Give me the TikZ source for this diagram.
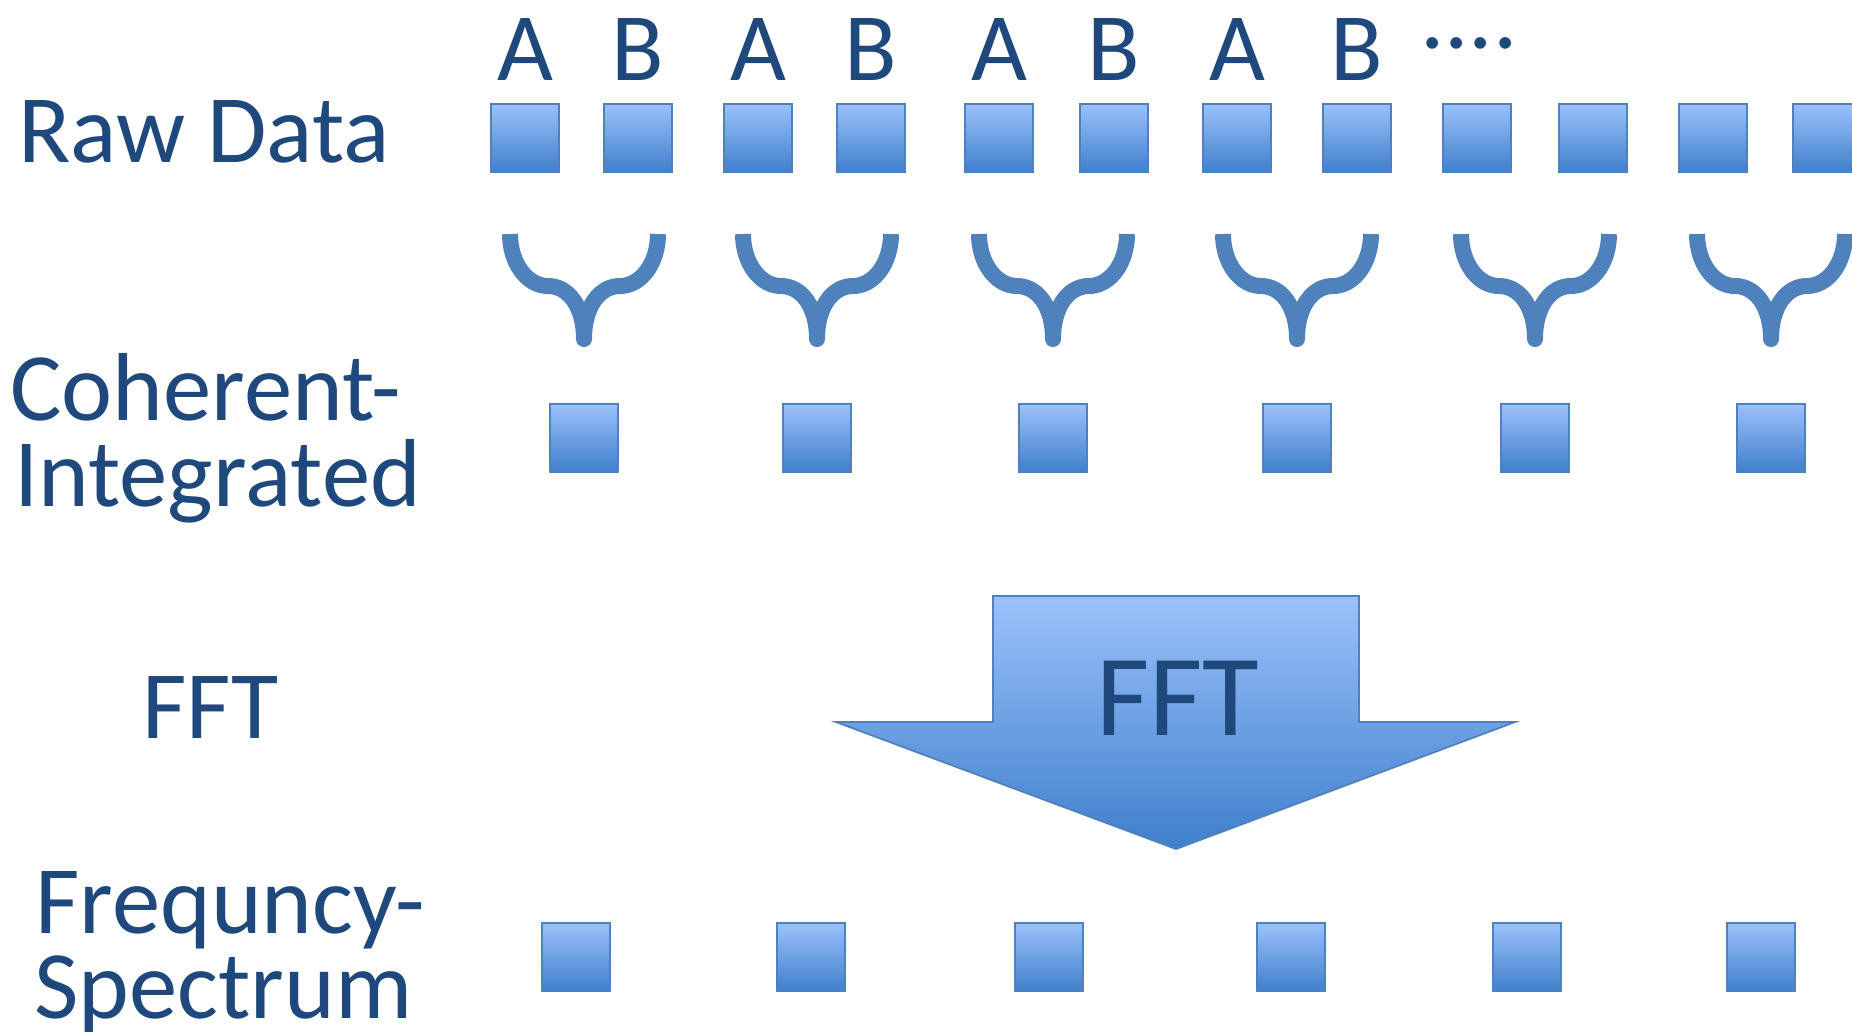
\documentclass[tikz,border=0pt]{standalone}
\usepackage{fontspec}
\setmainfont{Carlito}
\usetikzlibrary{positioning,calc}
\definecolor{txtblue}{RGB}{31,73,125}
\definecolor{accblue}{RGB}{79,129,189}
\definecolor{gradtop}{RGB}{155,193,250}
\definecolor{gradbot}{RGB}{63,127,204}
\newcommand{\lblfont}{\fontsize{55}{49}\selectfont}
\newcommand{\bigfont}{\fontsize{66}{60}\selectfont}
\tikzset{
	sq/.style={draw=accblue,line width=1.2pt,top color=gradtop,bottom color=gradbot,minimum size=1.36cm,inner sep=0pt,outer sep=0pt},
	abl/.style={text=txtblue,font=\lblfont,inner sep=0pt},
	lbl/.style={text=txtblue,font=\lblfont,inner sep=0pt,anchor=base west},
	merge/.pic={
		\draw[accblue,line width=0.32cm,line cap=butt,line join=round] (-74,-105) .. controls (-74,-76) and (-57,-53) .. (-36,-53) .. controls (-16,-53) and (0,-33) .. (0,0) .. controls (0,-33) and (16,-53) .. (36,-53) .. controls (57,-53) and (74,-76) .. (74,-105);
	}
}
\begin{document}
\begin{tikzpicture}[x=0.02cm,y=-0.02cm]
			\useasboundingbox (0,0) rectangle (1852,1031);
			\node[sq] (r1) at (525,138) {};
			\node[sq] (r2) at (638,138) {};
			\node[sq] (r3) at (758,138) {};
			\node[sq] (r4) at (871,138) {};
			\node[sq] (r5) at (999,138) {};
			\node[sq] (r6) at (1114,138) {};
			\node[sq] (r7) at (1237,138) {};
			\node[sq] (r8) at (1357,138) {};
			\node[sq] (r9) at (1477,138) {};
			\node[sq] (r10) at (1593,138) {};
			\node[sq] (r11) at (1713,138) {};
			\node[sq] (r12) at (1827,138) {};
			\node[abl,above=0.46cm of r1] (la1) {A};
			\node[abl,above=0.46cm of r2] (lb1) {B};
			\node[abl,above=0.46cm of r3] (la2) {A};
			\node[abl,above=0.46cm of r4] (lb2) {B};
			\node[abl,above=0.46cm of r5] (la3) {A};
			\node[abl,above=0.46cm of r6] (lb3) {B};
			\node[abl,above=0.46cm of r7] (la4) {A};
			\node[abl,above=0.46cm of r8] (lb4) {B};
			\node[abl,anchor=base] (dots) at (1469,48) {....};
		
			\node[sq] (ci1) at (584,438) {};
			\node[sq] (ci2) at (817,438) {};
			\node[sq] (ci3) at (1053,438) {};
			\node[sq] (ci4) at (1297,438) {};
			\node[sq] (ci5) at (1535,438) {};
			\node[sq] (ci6) at (1771,438) {};
			\pic at ($(ci1.north)+(0,-65)$) {merge};
			\pic at ($(ci2.north)+(0,-65)$) {merge};
			\pic at ($(ci3.north)+(0,-65)$) {merge};
			\pic at ($(ci4.north)+(0,-65)$) {merge};
			\pic at ($(ci5.north)+(0,-65)$) {merge};
			\pic at ($(ci6.north)+(0,-65)$) {merge};
		
			\draw[accblue,line width=1pt,top color=gradtop,bottom color=gradbot] (993,596) -- (1359,596) -- (1359,722) -- (1515,722) -- (1176,849) -- (836,722) -- (993,722) -- cycle;
			\node[text=txtblue,font=\bigfont,inner sep=0pt,anchor=base] (fftin) at (1178,735) {FFT};
		
			\node[sq] (fs1) at (576,957) {};
			\node[sq] (fs2) at (811,957) {};
			\node[sq] (fs3) at (1049,957) {};
			\node[sq] (fs4) at (1291,957) {};
			\node[sq] (fs5) at (1527,957) {};
			\node[sq] (fs6) at (1761,957) {};
		
			\node[lbl] (lraw) at (18,162) {Raw Data};
			\node[lbl] (lcoh) at (10,420) {Coherent-};
			\node[lbl] (lint) at (14,506) {Integrated};
			\node[lbl] (lfft) at (142,738) {FFT};
			\node[lbl] (lfreq) at (35,933) {Frequncy-};
			\node[lbl] (lspec) at (34,1018) {Spectrum};
\end{tikzpicture}
\end{document}
